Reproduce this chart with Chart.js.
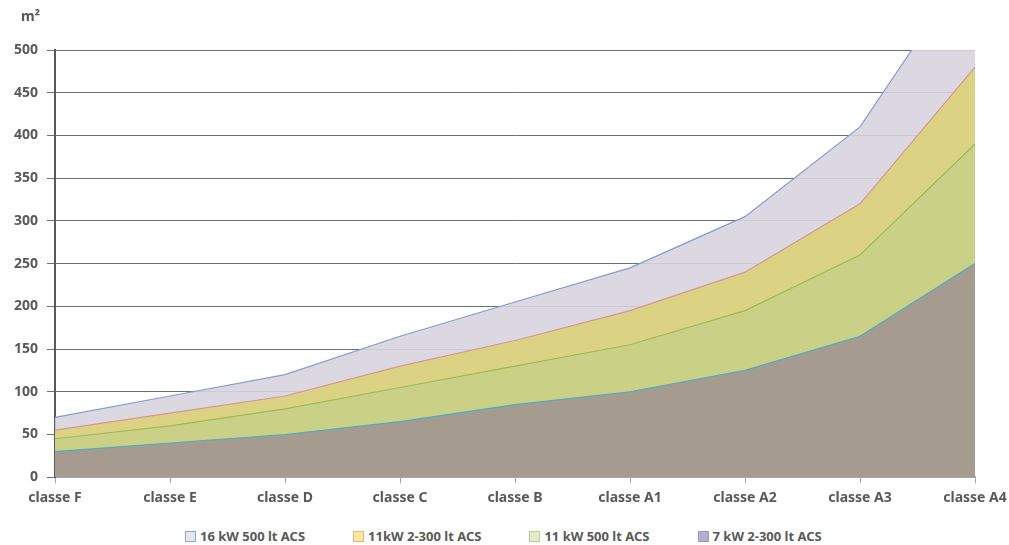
<!DOCTYPE html>
<html>
<head>
<meta charset="utf-8">
<script src="https://cdn.jsdelivr.net/npm/chart.js@4"></script>
<style>
  body { margin: 0; background: #fff; font-family: 'Noto Sans', sans-serif; }
  #wrap { position: relative; width: 1009px; height: 545px; }
  #unit { position: absolute; left: 21px; top: 6px; font-size: 14px; font-weight: bold; color: #595959; }
  #legend { position: absolute; left: 185px; top: 527px; display: flex; gap: 48px;
            font-size: 13px; font-weight: bold; color: #595959; white-space: nowrap; }
  #legend span.box { display: inline-block; width: 9px; height: 9px; border: 1px solid; margin-right: 4px; vertical-align: -1px; }
</style>
</head>
<body>
<div id="wrap">
  <canvas id="areaChart" width="1009" height="515"></canvas>
  <div id="unit">m²</div>
  <div id="legend"></div>
</div>
<script>
const categories = ['classe F', 'classe E', 'classe D', 'classe C', 'classe B', 'classe A1', 'classe A2', 'classe A3', 'classe A4'];

const kw16_500 = [70, 95, 120, 165, 205, 245, 305, 410, 610];
const kw11_300 = [55, 75, 95, 130, 160, 195, 240, 320, 480];
const kw11_500 = [45, 60, 80, 105, 130, 155, 195, 260, 390];
const kw7_300 = [30, 40, 50, 65, 85, 100, 125, 165, 250];

const seriesNames = ['16 kW 500 lt ACS', '11kW 2-300 lt ACS', '11 kW 500 lt ACS', '7 kW 2-300 lt ACS'];
const legendFill = ['#e6e6ef', '#fbe6a2', '#e1ebcc', '#b7abd2'];
const legendLine = ['#8ea7d6', '#f2b56f', '#bcd191', '#8b9fcf'];

const font = { family: 'Noto Sans', weight: 'bold', size: 14 };

function area(label, data, fill, line) {
    return {
        label: label,
        data: data,
        fill: 'origin',
        backgroundColor: fill,
        borderColor: line,
        borderWidth: 1.2,
        pointRadius: 0,
        tension: 0
    };
}

// first dataset is drawn on top, so the smallest series goes first
const datasets = [
    area(seriesNames[3], kw7_300, 'rgba(163,152,143,0.93)', '#4bacc6'),
    area(seriesNames[2], kw11_500, 'rgba(200,208,135,0.9)', '#9bbb59'),
    area(seriesNames[1], kw11_300, 'rgba(220,210,122,0.9)', '#d99694'),
    area(seriesNames[0], kw16_500, 'rgba(216,212,222,0.9)', '#7f9fd0')
];

const config = {
    type: 'line',
    data: { labels: categories, datasets: datasets },
    options: {
        responsive: false,
        animation: false,
        layout: { padding: { left: 5, right: 0, top: 50, bottom: 3 } },
        plugins: {
            legend: { display: false },
            tooltip: { enabled: false }
        },
        scales: {
            x: {
                offset: false,
                afterFit: (scale) => { scale.paddingRight = 34; },
                grid: { drawOnChartArea: false, drawTicks: true, tickLength: 6, color: '#a6a6a6' },
                border: { color: '#a6a6a6', width: 2 },
                ticks: { color: '#595959', font: font, maxRotation: 0, padding: 6 }
            },
            y: {
                min: 0,
                max: 500,
                ticks: { stepSize: 50, color: '#595959', font: font, padding: 9 },
                grid: { color: '#6f6f6f', tickLength: 8 },
                border: { color: '#595959', width: 2 }
            }
        }
    }
};

new Chart(document.getElementById('areaChart'), config);

const legend = document.getElementById('legend');
seriesNames.forEach((name, i) => {
    const item = document.createElement('div');
    const box = document.createElement('span');
    box.className = 'box';
    box.style.background = legendFill[i];
    box.style.borderColor = legendLine[i];
    item.appendChild(box);
    item.appendChild(document.createTextNode(name));
    legend.appendChild(item);
});
</script>
</body>
</html>
